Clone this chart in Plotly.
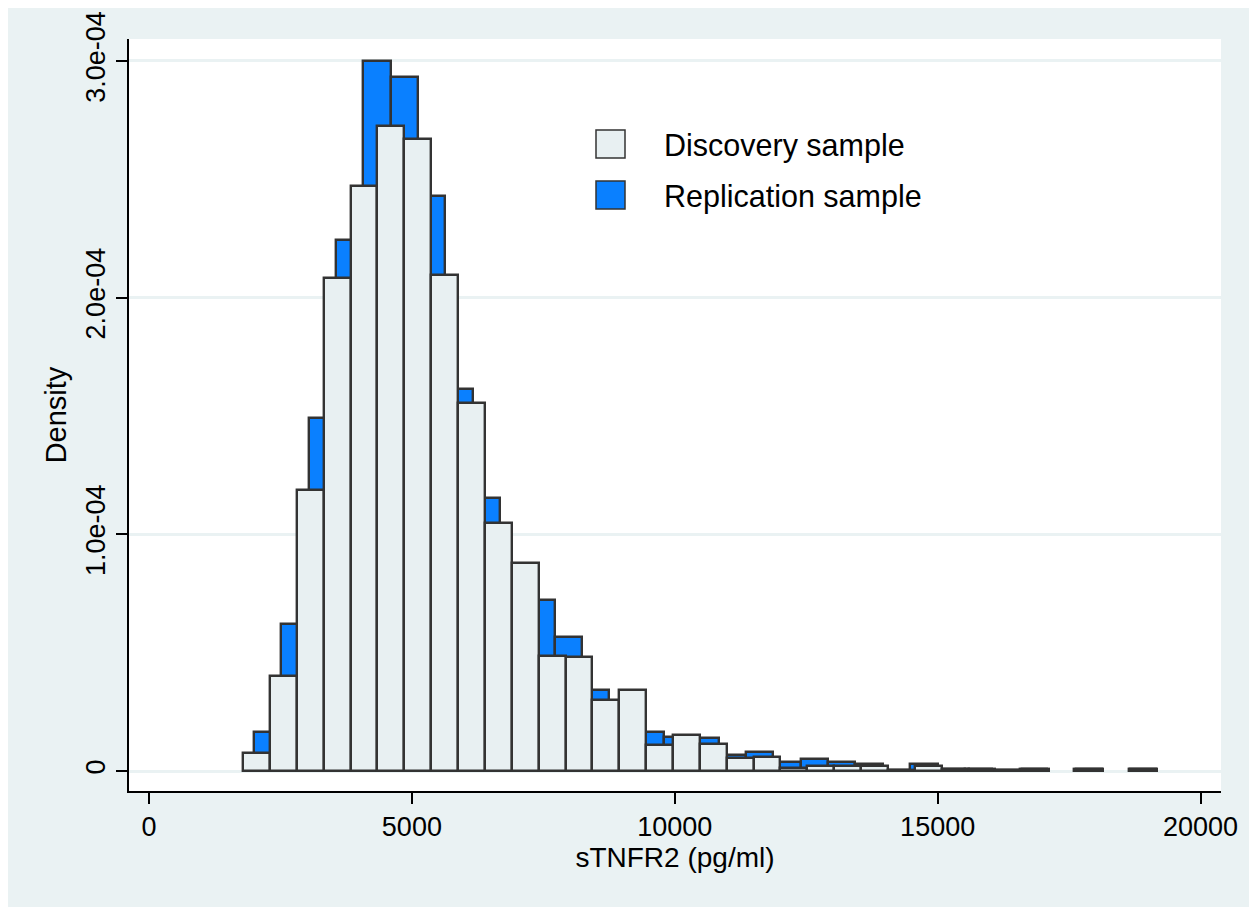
import plotly.graph_objects as go

# ---- data (density values in units of 1e-4) ----
disc_start = 1790
disc_width = 511
disc_density = [0.075, 0.403, 1.189, 2.081, 2.470, 2.726, 2.671, 2.097, 1.556, 1.048,
                0.878, 0.486, 0.483, 0.300, 0.342, 0.110, 0.152, 0.112, 0.056, 0.059,
                0.011, 0.021, 0.021, 0.022, 0.006, 0.021, 0.010, 0.010, 0.005, 0.010,
                None, 0.010, None, 0.010]

rep_start = 1997
rep_width = 520
rep_density = [0.165, 0.621, 1.492, 2.242, 3.000, 2.933, 2.429, 1.613, 1.153, 0.850,
               0.722, 0.565, 0.342, 0.250, 0.166, 0.145, 0.140, 0.068, 0.079, 0.039,
               0.051, 0.039, 0.030, 0.006, 0.030, 0.010, 0.010, 0.005, 0.010, None,
               0.010, None, 0.010]

x_tickvals = [0, 5000, 10000, 15000, 20000]
x_ticktext = ["0", "5000", "10000", "15000", "20000"]
y_tickvals = [0, 1e-4, 2e-4, 3e-4]
y_ticktext = ["0", "1.0e-04", "2.0e-04", "3.0e-04"]

series_names = ["Discovery sample", "Replication sample"]
x_title = "sTNFR2 (pg/ml)"
y_title = "Density"

# ---- styling ----
BG = "#EAF2F3"
DISC_FILL = "#E8F0F2"
REP_FILL = "#0A80FF"
OUTLINE = "#333333"
FONT = "Liberation Sans, Arial, sans-serif"


def centers(start, width, n):
    return [start + width * (i + 0.5) for i in range(n)]


def scale(vals):
    return [None if v is None else v * 1e-4 for v in vals]


fig = go.Figure()
fig.add_trace(go.Bar(
    x=centers(rep_start, rep_width, len(rep_density)),
    y=scale(rep_density),
    width=rep_width,
    marker=dict(color=REP_FILL, line=dict(color=OUTLINE, width=2.4)),
    name=series_names[1],
    showlegend=False,
))
fig.add_trace(go.Bar(
    x=centers(disc_start, disc_width, len(disc_density)),
    y=scale(disc_density),
    width=disc_width,
    marker=dict(color=DISC_FILL, line=dict(color=OUTLINE, width=2.4)),
    name=series_names[0],
    showlegend=False,
))

# page is offset by the default 8px body margin
OFF = 8
W, H = 1257 - OFF, 914 - OFF
L, R, T, B = 129 - OFF, 36, 39 - OFF, 123
pw, ph = W - L - R, H - T - B


def px(xp):  # page x pixel -> paper
    return (xp - OFF - L) / pw


def py(yp):  # page y pixel -> paper
    return (H - B - (yp - OFF)) / ph


shapes = [
    # white strip at bottom of graph region
    dict(type="rect", xref="paper", yref="paper", x0=px(0), x1=px(1270), y0=py(930), y1=py(907),
         fillcolor="white", line=dict(width=0), layer="below"),
    # plot region
    dict(type="rect", xref="paper", yref="paper", x0=0, x1=1, y0=0, y1=1,
         fillcolor="white", line=dict(width=0), layer="below"),
    # legend keys
    dict(type="rect", xref="paper", yref="paper", x0=px(596), x1=px(625), y0=py(158), y1=py(130),
         fillcolor=DISC_FILL, line=dict(color=OUTLINE, width=1.5)),
    dict(type="rect", xref="paper", yref="paper", x0=px(596), x1=px(625), y0=py(209), y1=py(181),
         fillcolor=REP_FILL, line=dict(color=OUTLINE, width=1.5)),
]

annotations = [
    dict(text=series_names[0], xref="paper", yref="paper", x=px(662), y=py(145),
         xanchor="left", yanchor="middle", showarrow=False, font=dict(size=30.5, color="black", family=FONT)),
    dict(text=series_names[1], xref="paper", yref="paper", x=px(662), y=py(196),
         xanchor="left", yanchor="middle", showarrow=False, font=dict(size=30.5, color="black", family=FONT)),
]

fig.update_layout(
    width=W, height=H,
    margin=dict(l=L, r=R, t=T, b=B, pad=0, autoexpand=False),
    paper_bgcolor=BG,
    plot_bgcolor="rgba(0,0,0,0)",
    showlegend=False,
    barmode="overlay",
    bargap=0,
    shapes=shapes,
    annotations=annotations,
    font=dict(family=FONT, color="black", size=27),
    xaxis=dict(
        range=[-380.4, 20389],
        tickvals=x_tickvals, ticktext=x_ticktext,
        ticks="outside", ticklen=11, tickwidth=1.5, tickcolor="black",
        showline=True, linecolor="black", linewidth=1.5,
        showgrid=False, zeroline=False, automargin=False,
        tickfont=dict(size=27, family=FONT),
        title=dict(text=x_title, font=dict(size=28, family=FONT), standoff=3),
    ),
    yaxis=dict(
        range=[-0.0845e-4, 3.0929e-4],
        tickvals=y_tickvals, ticktext=y_ticktext,
        tickangle=-90,
        ticks="outside", ticklen=11, tickwidth=1.5, tickcolor="black",
        showline=True, linecolor="black", linewidth=1.5,
        showgrid=True, gridcolor=BG, gridwidth=2.5,
        zeroline=False, automargin=False,
        tickfont=dict(size=27, family=FONT),
        title=dict(text=y_title, font=dict(size=29, family=FONT), standoff=6),
    ),
)

fig.write_html("out.html")
